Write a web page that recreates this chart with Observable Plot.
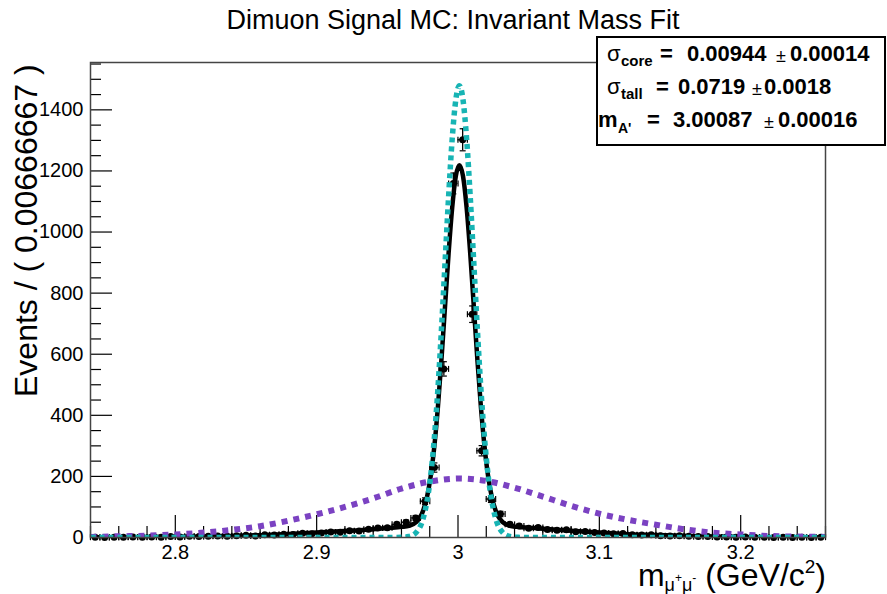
<!DOCTYPE html>
<html><head><meta charset="utf-8">
<script src="https://cdn.jsdelivr.net/npm/d3@7"></script>
<script src="https://cdn.jsdelivr.net/npm/@observablehq/plot@0.6"></script>
<style>
body{margin:0;background:#fff;}
#wrap{position:relative;width:887px;height:594px;overflow:hidden;font-family:"Liberation Sans",Arial,Helvetica,sans-serif;background:#fff;}
#wrap svg{position:absolute;left:0;top:0;}
.ov{position:absolute;white-space:nowrap;line-height:1;color:#000;}
.b{font-weight:bold;}
#box{position:absolute;left:596px;top:36px;width:290px;height:110px;box-sizing:border-box;border:2px solid #000;background:#fff;}
</style></head><body>
<div id="wrap"></div>
<script>
// ---- data: histogram (bin centres, counts) ----
const binCenters = [
 2.7433,2.7500,2.7567,2.7633,2.7700,2.7767,2.7833,2.7900,2.7967,2.8033,
 2.8100,2.8167,2.8233,2.8300,2.8367,2.8433,2.8500,2.8567,2.8633,2.8700,
 2.8767,2.8833,2.8900,2.8967,2.9033,2.9100,2.9167,2.9233,2.9300,2.9367,
 2.9433,2.9500,2.9567,2.9633,2.9700,2.9767,2.9833,2.9900,2.9967,3.0033,
 3.0100,3.0167,3.0233,3.0300,3.0367,3.0433,3.0500,3.0567,3.0633,3.0700,
 3.0767,3.0833,3.0900,3.0967,3.1033,3.1100,3.1167,3.1233,3.1300,3.1367,
 3.1433,3.1500,3.1567,3.1633,3.1700,3.1767,3.1833,3.1900,3.1967,3.2033,
 3.2100,3.2167,3.2233,3.2300,3.2367,3.2433,3.2500,3.2567];
const counts = [
 1,0,1,1,2,1,2,1,3,2,
 4,3,4,5,4,6,7,5,9,8,
 11,10,14,12,15,18,17,22,21,27,
 31,32,43,50,64,119,229,552,1159,1302,
 731,284,126,77,43,38,30,33,26,24,
 25,19,20,16,15,12,13,9,8,9,
 6,5,6,4,3,3,2,2,1,2,
 1,1,0,1,0,1,0,1];
const binHalfWidth = 0.003333;

// ---- fit curves ----
const totalX = [2.74,2.76,2.78,2.80,2.82,2.84,2.86,2.88,2.90,2.92,2.94,2.95,2.9602,2.9653,2.9704,2.9755,2.97805,2.9806,2.98315,2.9857,2.98825,2.9908,2.99335,2.9959,2.99845,3.001,3.00355,3.0061,3.00865,3.0112,3.01375,3.0163,3.01885,3.0214,3.02395,3.0265,3.0316,3.0367,3.0418,3.052,3.06,3.08,3.10,3.12,3.14,3.16,3.18,3.20,3.22,3.24,3.26];
const totalY = [0.5,1,1.5,2.3,3.4,5.2,7.6,11.5,16,21,27,31,34.8,38.4,50,90,132,198,294,422,580,755,930,1080,1183,1219,1183,1080,930,755,580,422,294,198,132,90,50,38.4,34.8,31.5,29,22,16,11,8,5.5,3.3,2,1,0.6,0.4];
const coreX = [2.74,2.95,2.9602,2.9653,2.9704,2.9755,2.97805,2.9806,2.98315,2.9857,2.98825,2.9908,2.99335,2.9959,2.99845,3.001,3.00355,3.0061,3.00865,3.0112,3.01375,3.0163,3.01885,3.0214,3.02395,3.0265,3.0316,3.0367,3.0418,3.052,3.26];
const coreY = [0,0,0.5,3.2,16.4,65,118,200,320,480,677,897,1116,1305,1433,1479,1433,1305,1116,897,677,480,320,200,118,65,16.4,3.2,0.5,0,0];
const tailX = [2.74,2.76,2.78,2.80,2.82,2.84,2.86,2.88,2.90,2.92,2.94,2.96,2.98,3.0009,3.02,3.04,3.06,3.08,3.10,3.12,3.14,3.16,3.18,3.20,3.22,3.24,3.26];
const tailY = [2,4,6,10,16,25,37,55,76,100,128,160,183,193,185,163,134,104,78,58,42,27,16,10,5,3,2];

// ---- axis ticks ----
const yTicks = [0,200,400,600,800,1000,1200,1400];
const yMinorTicks = [50,100,150,250,300,350,450,500,550,650,700,750,850,900,950,1050,1100,1150,1250,1300,1350,1450,1500,1550];
const xTicks = [2.8,2.9,3.0,3.1,3.2];
const xMinorTicks = [2.74,2.76,2.78,2.82,2.84,2.86,2.88,2.92,2.94,2.96,2.98,3.02,3.04,3.06,3.08,3.12,3.14,3.16,3.18,3.22,3.24,3.26];

const W = 887, H = 594, mL = 90, mR = 62, mT = 62, mB = 57;
const frameW = W - mL - mR, frameH = H - mT - mB;
const pts = binCenters.map((x, i) => ({x, n: counts[i], e: Math.sqrt(counts[i])}));
const vCap = {draw(ctx){ctx.moveTo(0,-3);ctx.lineTo(0,3);}};
const hCap = {draw(ctx){ctx.moveTo(-3,0);ctx.lineTo(3,0);}};
const tot = totalX.map((x,i)=>({x, y: totalY[i]}));
const core = coreX.map((x,i)=>({x, y: coreY[i]}));
const tail = tailX.map((x,i)=>({x, y: tailY[i]}));

const chart = Plot.plot({
  width: W, height: H, marginLeft: mL, marginRight: mR, marginTop: mT, marginBottom: mB,
  style: {fontFamily: '"Liberation Sans", Arial, sans-serif', fontSize: "20px", color: "#000", background: "transparent"},
  x: {domain: [2.74, 3.26]},
  y: {domain: [0, 1555]},
  marks: [
    Plot.tickY(yTicks, {y: d => d, insetRight: frameW - 22, stroke: "#000", strokeWidth: 1.2}),
    Plot.tickY(yMinorTicks, {y: d => d, insetRight: frameW - 11, stroke: "#000", strokeWidth: 1.2}),
    Plot.tickX(xTicks, {x: d => d, insetTop: frameH - 22, stroke: "#000", strokeWidth: 1.2}),
    Plot.tickX(xMinorTicks, {x: d => d, insetTop: frameH - 11, stroke: "#000", strokeWidth: 1.2}),
    Plot.axisY(yTicks, {tickSize: 0, tickPadding: 7, fontSize: 20, label: null, tickFormat: d => String(d)}),
    Plot.axisX(xTicks, {tickSize: 0, tickPadding: 7, fontSize: 20, label: null, tickFormat: d => String(+d.toFixed(1))}),
    // data with error bars
    Plot.ruleY(pts, {y: "n", x1: d => d.x - binHalfWidth, x2: d => d.x + binHalfWidth, stroke: "#000", strokeWidth: 1.3, clip: true}),
    Plot.ruleX(pts, {x: "x", y1: d => Math.max(0, d.n - d.e), y2: d => d.n + d.e, stroke: "#000", strokeWidth: 1.3, clip: true}),
    Plot.dot(pts, {x: d => d.x - binHalfWidth, y: "n", symbol: vCap, stroke: "#000", strokeWidth: 1.2, r: 3}),
    Plot.dot(pts, {x: d => d.x + binHalfWidth, y: "n", symbol: vCap, stroke: "#000", strokeWidth: 1.2, r: 3}),
    Plot.dot(pts.filter(d => d.n > 20), {x: "x", y: d => d.n + d.e, symbol: hCap, stroke: "#000", strokeWidth: 1.2, r: 3}),
    Plot.dot(pts.filter(d => d.n > 20), {x: "x", y: d => d.n - d.e, symbol: hCap, stroke: "#000", strokeWidth: 1.2, r: 3}),
    Plot.dot(pts, {x: "x", y: "n", r: 3.5, fill: "#000", stroke: "none"}),
    // fit curves
    Plot.line(tot, {x: "x", y: "y", curve: "monotone-x", stroke: "#000", strokeWidth: 4.5, clip: true}),
    Plot.line(tail, {x: "x", y: "y", curve: "monotone-x", stroke: "#7b42c2", strokeWidth: 6, strokeDasharray: "6 6", strokeLinecap: "butt", clip: true}),
    Plot.line(core, {x: "x", y: "y", curve: "monotone-x", stroke: "#17b4b4", strokeWidth: 5.5, strokeDasharray: "5 4", strokeLinecap: "butt", clip: true}),
    Plot.frame({stroke: "#444", strokeWidth: 1.5})
  ]
});

const wrap = document.getElementById("wrap");
wrap.appendChild(chart);

function ov(text, left, baseline, size, cls, extra) {
  const d = document.createElement("div");
  d.className = "ov" + (cls ? " " + cls : "");
  d.style.left = left + "px";
  d.style.top = (baseline - 0.8465 * size) + "px";
  d.style.fontSize = size + "px";
  if (extra) Object.assign(d.style, extra);
  d.innerHTML = text;
  wrap.appendChild(d);
  return d;
}
// title
ov("Dimuon Signal MC: Invariant Mass Fit", 0, 30, 27, "", {width: "906px", textAlign: "center"});
// y label
const yl = ov("Events / ( 0.00666667 )", 10, 0, 32, "", {transform: "rotate(-90deg)", transformOrigin: "0 0"});
yl.style.top = "397px";
// x label (tight line box: line-height 0.75)
const xl = document.createElement("div");
xl.className = "ov";
xl.style.lineHeight = "0.75";
xl.style.right = "61px"; xl.style.top = (586 - 0.7215 * 32) + "px"; xl.style.fontSize = "32px";
xl.innerHTML = 'm<span style="font-size:18px;position:relative;top:5px;">μ<span style="font-size:12px;position:relative;top:-9px;">+</span>μ<span style="font-size:12px;position:relative;top:-9px;">-</span></span> (GeV/c<span style="font-size:19px;position:relative;top:-13px;">2</span>)';
wrap.appendChild(xl);
// stats box
const box = document.createElement("div"); box.id = "box"; wrap.appendChild(box);
// row 1
ov("σ", 607, 62, 22, "");
ov("core", 621, 66, 15, "b");
ov("=", 660, 62, 22, "b");
ov("0.00944", 687, 62, 22, "b");
ov("±", 776, 62, 18, "");
ov("0.00014", 790, 62, 22, "b");
// row 2
ov("σ", 607, 95, 22, "");
ov("tall", 621, 99, 15, "b");
ov("=", 656, 95, 22, "b");
ov("0.0719", 678, 95, 22, "b");
ov("±", 752, 95, 18, "");
ov("0.0018", 764, 95, 22, "b");
// row 3
ov("m", 598, 128, 22, "b");
ov("A'", 618, 133, 14, "b");
ov("=", 647, 128, 22, "b");
ov("3.00087", 673, 128, 22, "b");
ov("±", 764, 128, 18, "");
ov("0.00016", 778, 128, 22, "b");
</script>
</body></html>
